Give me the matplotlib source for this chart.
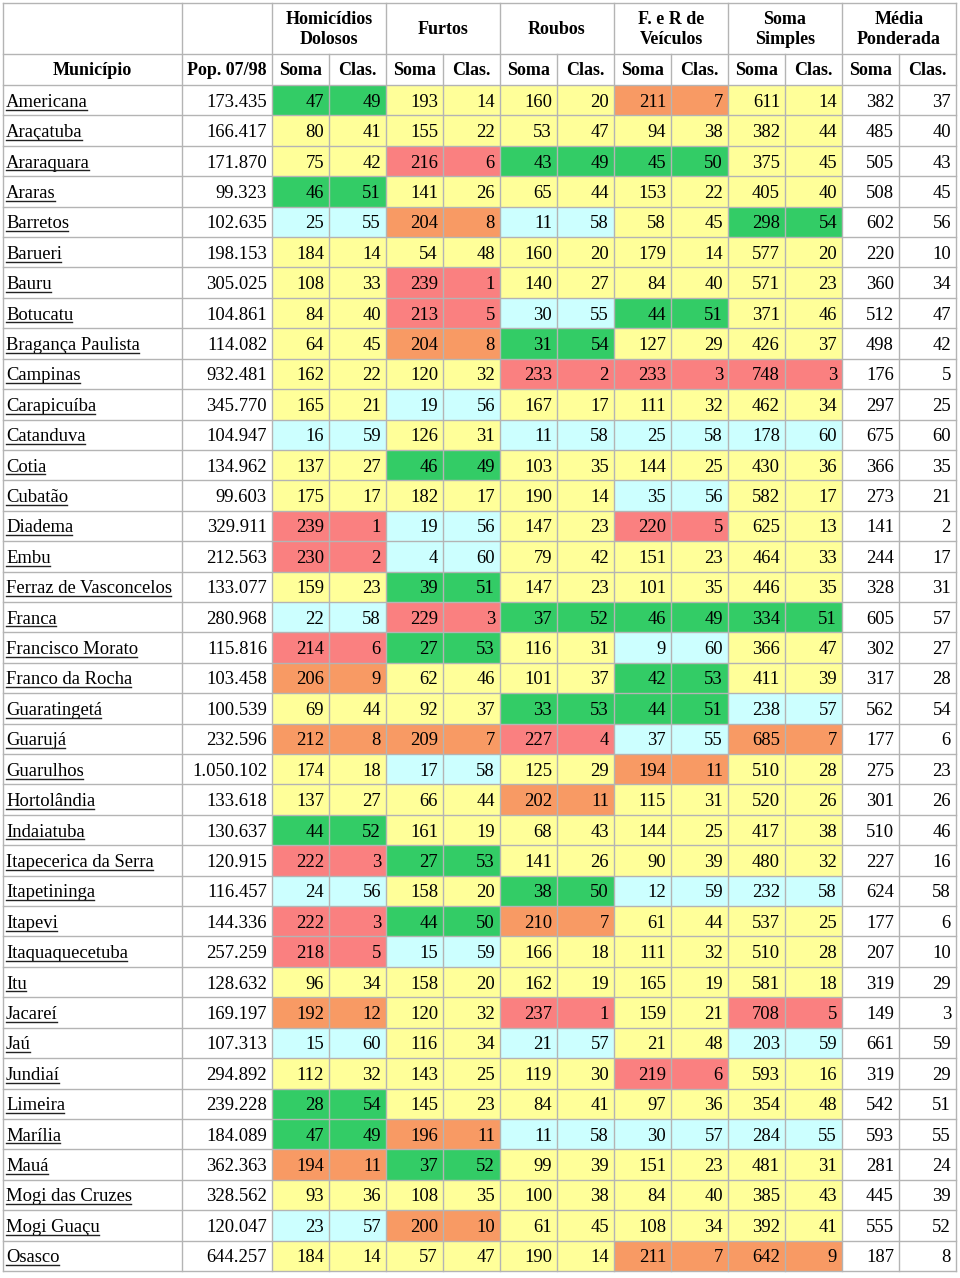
import matplotlib
matplotlib.use("Agg")
import matplotlib.pyplot as plt
from matplotlib.patches import Rectangle
from matplotlib.lines import Line2D

# ---------------- data ----------------
municipios = ["Americana", "Araçatuba", "Araraquara", "Araras", "Barretos", "Barueri", "Bauru",
              "Botucatu", "Bragança Paulista", "Campinas", "Carapicuíba", "Catanduva", "Cotia",
              "Cubatão", "Diadema", "Embu", "Ferraz de Vasconcelos", "Franca", "Francisco Morato",
              "Franco da Rocha", "Guaratingetá", "Guarujá", "Guarulhos", "Hortolândia", "Indaiatuba",
              "Itapecerica da Serra", "Itapetininga", "Itapevi", "Itaquaquecetuba", "Itu", "Jacareí",
              "Jaú", "Jundiaí", "Limeira", "Marília", "Mauá", "Mogi das Cruzes", "Mogi Guaçu", "Osasco"]
pop = [173435, 166417, 171870, 99323, 102635, 198153, 305025, 104861, 114082, 932481, 345770,
       104947, 134962, 99603, 329911, 212563, 133077, 280968, 115816, 103458, 100539, 232596,
       1050102, 133618, 130637, 120915, 116457, 144336, 257259, 128632, 169197, 107313, 294892,
       239228, 184089, 362363, 328562, 120047, 644257]
hom_soma = [47, 80, 75, 46, 25, 184, 108, 84, 64, 162, 165, 16, 137, 175, 239, 230, 159, 22, 214, 206,
            69, 212, 174, 137, 44, 222, 24, 222, 218, 96, 192, 15, 112, 28, 47, 194, 93, 23, 184]
hom_clas = [49, 41, 42, 51, 55, 14, 33, 40, 45, 22, 21, 59, 27, 17, 1, 2, 23, 58, 6, 9,
            44, 8, 18, 27, 52, 3, 56, 3, 5, 34, 12, 60, 32, 54, 49, 11, 36, 57, 14]
fur_soma = [193, 155, 216, 141, 204, 54, 239, 213, 204, 120, 19, 126, 46, 182, 19, 4, 39, 229, 27, 62,
            92, 209, 17, 66, 161, 27, 158, 44, 15, 158, 120, 116, 143, 145, 196, 37, 108, 200, 57]
fur_clas = [14, 22, 6, 26, 8, 48, 1, 5, 8, 32, 56, 31, 49, 17, 56, 60, 51, 3, 53, 46,
            37, 7, 58, 44, 19, 53, 20, 50, 59, 20, 32, 34, 25, 23, 11, 52, 35, 10, 47]
rou_soma = [160, 53, 43, 65, 11, 160, 140, 30, 31, 233, 167, 11, 103, 190, 147, 79, 147, 37, 116, 101,
            33, 227, 125, 202, 68, 141, 38, 210, 166, 162, 237, 21, 119, 84, 11, 99, 100, 61, 190]
rou_clas = [20, 47, 49, 44, 58, 20, 27, 55, 54, 2, 17, 58, 35, 14, 23, 42, 23, 52, 31, 37,
            53, 4, 29, 11, 43, 26, 50, 7, 18, 19, 1, 57, 30, 41, 58, 39, 38, 45, 14]
vei_soma = [211, 94, 45, 153, 58, 179, 84, 44, 127, 233, 111, 25, 144, 35, 220, 151, 101, 46, 9, 42,
            44, 37, 194, 115, 144, 90, 12, 61, 111, 165, 159, 21, 219, 97, 30, 151, 84, 108, 211]
vei_clas = [7, 38, 50, 22, 45, 14, 40, 51, 29, 3, 32, 58, 25, 56, 5, 23, 35, 49, 60, 53,
            51, 55, 11, 31, 25, 39, 59, 44, 32, 19, 21, 48, 6, 36, 57, 23, 40, 34, 7]
ss_soma = [611, 382, 375, 405, 298, 577, 571, 371, 426, 748, 462, 178, 430, 582, 625, 464, 446, 334, 366, 411,
           238, 685, 510, 520, 417, 480, 232, 537, 510, 581, 708, 203, 593, 354, 284, 481, 385, 392, 642]
ss_clas = [14, 44, 45, 40, 54, 20, 23, 46, 37, 3, 34, 60, 36, 17, 13, 33, 35, 51, 47, 39,
           57, 7, 28, 26, 38, 32, 58, 25, 28, 18, 5, 59, 16, 48, 55, 31, 43, 41, 9]
mp_soma = [382, 485, 505, 508, 602, 220, 360, 512, 498, 176, 297, 675, 366, 273, 141, 244, 328, 605, 302, 317,
           562, 177, 275, 301, 510, 227, 624, 177, 207, 319, 149, 661, 319, 542, 593, 281, 445, 555, 187]
mp_clas = [37, 40, 43, 45, 56, 10, 34, 47, 42, 5, 25, 60, 35, 21, 2, 17, 31, 57, 27, 28,
           54, 6, 23, 26, 46, 16, 58, 6, 10, 29, 3, 59, 29, 51, 55, 24, 39, 52, 8]

group_titles = ["Homicídios\nDolosos", "Furtos", "Roubos", "F. e R de\nVeículos", "Soma\nSimples", "Média\nPonderada"]
sub_labels = ["Soma", "Clas."]
groups = [(hom_soma, hom_clas, True), (fur_soma, fur_clas, True), (rou_soma, rou_clas, True),
          (vei_soma, vei_clas, True), (ss_soma, ss_clas, True), (mp_soma, mp_clas, False)]

# ---------------- style ----------------
RED, ORANGE, YELLOW, GREEN, CYAN = "#FA8080", "#F89A64", "#FFFF99", "#33CC66", "#CCFFFF"

def class_color(c):
    if c <= 6:
        return RED
    if c <= 12:
        return ORANGE
    if c <= 48:
        return YELLOW
    if c <= 54:
        return GREEN
    return CYAN

def fmt_pop(v):
    return f"{v:,}".replace(",", ".")

W, H = 960, 1278
fig = plt.figure(figsize=(W / 100, H / 100), dpi=100)
ax = fig.add_axes([0, 0, 1, 1])
ax.set_xlim(0, W)
ax.set_ylim(H, 0)
ax.axis("off")

col_edges = [3, 182, 272] + [272 + 57 * (i + 1) for i in range(12)]
col_edges[-1] = 956
top, h1, h2 = 3, 54, 85
row_h = (1271 - h2) / len(municipios)
FONT = "Liberation Serif"
FS = 13.4
FSH = 13.0
GRID = "#B4B4B4"
PAD = 5

# header
for g, title in enumerate(group_titles):
    x0, x1 = col_edges[2 + 2 * g], col_edges[4 + 2 * g]
    ax.text((x0 + x1) / 2, (top + h1) / 2 + 1, title, ha="center", va="center", fontsize=FSH,
            fontweight="bold", family=FONT, linespacing=1.2)
    for k in range(2):
        xa, xb = col_edges[2 + 2 * g + k], col_edges[3 + 2 * g + k]
        ax.text((xa + xb) / 2, (h1 + h2) / 2 + 1, sub_labels[k], ha="center", va="center",
                fontsize=FSH, fontweight="bold", family=FONT)
ax.text((col_edges[0] + col_edges[1]) / 2, (h1 + h2) / 2 + 1, "Município", ha="center", va="center",
        fontsize=FSH, fontweight="bold", family=FONT)
ax.text((col_edges[1] + col_edges[2]) / 2, (h1 + h2) / 2 + 1, "Pop. 07/98", ha="center", va="center",
        fontsize=FSH, fontweight="bold", family=FONT)

name_texts = []
for r, name in enumerate(municipios):
    y0 = h2 + r * row_h
    yb = y0 + row_h / 2 + 6.5
    for g, (soma, clas, colored) in enumerate(groups):
        for k, vals in enumerate((soma, clas)):
            xa, xb = col_edges[2 + 2 * g + k], col_edges[3 + 2 * g + k]
            if colored:
                ax.add_patch(Rectangle((xa, y0), xb - xa, row_h, facecolor=class_color(clas[r]),
                                       edgecolor="none", zorder=0))
            ax.text(xb - PAD, yb, str(vals[r]), ha="right", va="baseline", fontsize=FS, family=FONT)
    ax.text(col_edges[2] - PAD, yb, fmt_pop(pop[r]), ha="right", va="baseline", fontsize=FS, family=FONT)
    t = ax.text(col_edges[0] + 3, yb, name, ha="left", va="baseline", fontsize=FS, family=FONT)
    name_texts.append((t, yb))

# grid lines
ys = [top, h1, h2] + [h2 + (r + 1) * row_h for r in range(len(municipios))]
for y in ys:
    ax.add_line(Line2D([col_edges[0], col_edges[-1]], [y, y], color=GRID, lw=1.0, zorder=2))
for j, x in enumerate(col_edges):
    is_sub = j >= 3 and (j - 2) % 2 == 1
    y_start = h1 if is_sub else top
    ax.add_line(Line2D([x, x], [y_start, ys[-1]], color=GRID, lw=1.0, zorder=2))

# underlines for municipality names
fig.canvas.draw()
renderer = fig.canvas.get_renderer()
inv = ax.transData.inverted()
for t, yb in name_texts:
    bb = t.get_window_extent(renderer)
    x0d, _ = inv.transform((bb.x0, bb.y0))
    x1d, _ = inv.transform((bb.x1, bb.y0))
    ax.add_line(Line2D([x0d, x1d - 1], [yb + 2.8, yb + 2.8], color="#222222", lw=1.0, zorder=3))

fig.savefig("out.png", dpi=100)
